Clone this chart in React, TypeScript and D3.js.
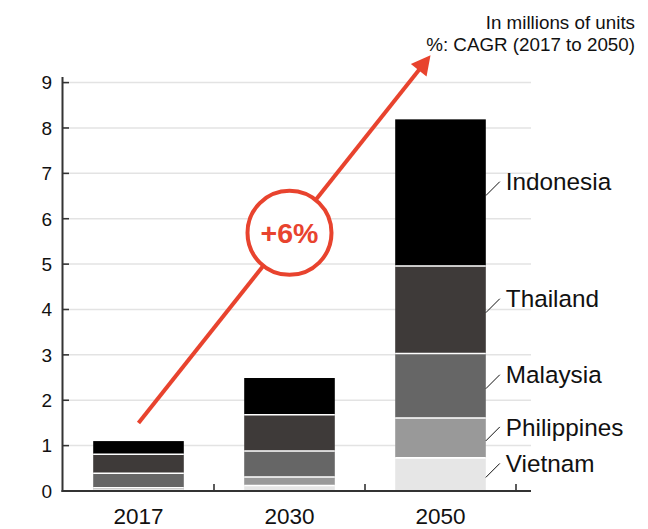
import React from "react";
import * as d3 from "d3";

const years = ["2017", "2030", "2050"];
const countries = ["Vietnam", "Philippines", "Malaysia", "Thailand", "Indonesia"];
const vietnam = [0.02, 0.12, 0.73];
const philippines = [0.05, 0.19, 0.88];
const malaysia = [0.32, 0.57, 1.42];
const thailand = [0.42, 0.8, 1.93];
const indonesia = [0.29, 0.81, 3.23];
const yTicks = [0, 1, 2, 3, 4, 5, 6, 7, 8, 9];
const cagrLabel = "+6%";
const noteLines = ["In millions of units", "%: CAGR (2017 to 2050)"];
const colors = ["#e6e6e6", "#999999", "#666666", "#3e3a39", "#000000"];

const W = 648;
const H = 529;
const FONT = "'Liberation Sans', Arial, Helvetica, sans-serif";
const RED = "#e8432e";

export default function App() {
  const series = [vietnam, philippines, malaysia, thailand, indonesia];
  const rows = years.map((yr, i) => {
    const r: any = { year: yr };
    countries.forEach((c, k) => (r[c] = series[k][i]));
    return r;
  });
  const stack = d3.stack<any>().keys(countries)(rows);

  const x = d3.scaleBand<string>().domain(years).range([63, 516]).padding(0);
  const y = d3.scaleLinear().domain([0, 9]).range([491, 82.6]);
  const barW = x.bandwidth() * 0.6;
  const bx = (yr: string) => (x(yr) as number) + (x.bandwidth() - barW) / 2;
  const cx = (yr: string) => (x(yr) as number) + x.bandwidth() / 2;

  // arrow annotation
  const ax0 = cx("2017");
  const ay0 = y(1.5);
  const ax1 = cx("2050") - 10;
  const ay1 = y(9.6);
  const dx = ax1 - ax0;
  const dy = ay1 - ay0;
  const len = Math.sqrt(dx * dx + dy * dy);
  const ux = dx / len;
  const uy = dy / len;
  const headL = 19;
  const headW = 10;
  const bxh = ax1 - ux * headL;
  const byh = ay1 - uy * headL;
  const head = [
    [ax1, ay1],
    [bxh - uy * headW, byh + ux * headW],
    [bxh + uy * headW, byh - ux * headW],
  ];
  const ccx = cx("2030");
  const ccy = ay0 + (uy / ux) * (ccx - ax0);

  const last = stack.map((s) => s[2]);

  return (
    <svg width={W} height={H} style={{ position: "absolute", left: 0, top: 0 }} fontFamily={FONT}>
      <rect width={W} height={H} fill="#fff" />
      {/* gridlines */}
      {yTicks.slice(1).map((t) => (
        <line key={"g" + t} x1={69} x2={531} y1={y(t)} y2={y(t)} stroke="#e3e3e3" strokeWidth={1.5} />
      ))}
      {/* bars */}
      {stack.map((s, k) =>
        s.map((d, i) => (
          <rect
            key={k + "-" + i}
            x={bx(years[i])}
            width={barW}
            y={y(d[1])}
            height={y(d[0]) - y(d[1])}
            fill={colors[k]}
          />
        ))
      )}
      {/* white separators */}
      {stack.slice(0, -1).map((s, k) =>
        s.map((d, i) => (
          <line
            key={"s" + k + "-" + i}
            x1={bx(years[i])}
            x2={bx(years[i]) + barW}
            y1={y(d[1])}
            y2={y(d[1])}
            stroke="#fff"
            strokeWidth={1.6}
          />
        ))
      )}
      {/* y axis */}
      <line x1={62.5} x2={62.5} y1={77} y2={492} stroke="#333" strokeWidth={2} />
      {yTicks.slice(1).map((t) => (
        <line key={"t" + t} x1={62} x2={69} y1={y(t)} y2={y(t)} stroke="#333" strokeWidth={1.6} />
      ))}
      {yTicks.map((t) => (
        <text key={"l" + t} x={52} y={y(t)} dy="0.36em" textAnchor="end" fontSize={19} fill="#111">
          {t}
        </text>
      ))}
      {/* x axis */}
      <line x1={61.5} x2={531} y1={491} y2={491} stroke="#333" strokeWidth={2} />
      {years.map((yr) => (
        <line
          key={"xt" + yr}
          x1={(x(yr) as number) + x.bandwidth()}
          x2={(x(yr) as number) + x.bandwidth()}
          y1={491}
          y2={484}
          stroke="#333"
          strokeWidth={1.6}
        />
      ))}
      {years.map((yr) => (
        <text key={"xl" + yr} x={cx(yr)} y={524} textAnchor="middle" fontSize={22.5} fill="#111">
          {yr}
        </text>
      ))}
      {/* country labels */}
      {last.map((d, k) => {
        const x0 = bx("2050") + barW;
        const ym = (y(d[0]) + y(d[1])) / 2 + 3;
        return (
          <g key={"c" + k}>
            <line x1={x0} y1={ym} x2={x0 + 14} y2={ym - 14} stroke="#111" strokeWidth={1} />
            <text x={x0 + 20} y={ym - 14} dy="0.36em" fontSize={24.3} fill="#111">
              {countries[k]}
            </text>
          </g>
        );
      })}
      {/* arrow */}
      <line x1={ax0} y1={ay0} x2={bxh + ux * 2} y2={byh + uy * 2} stroke={RED} strokeWidth={4} />
      <polygon points={head.map((p) => p.join(",")).join(" ")} fill={RED} />
      <circle cx={ccx} cy={ccy} r={42} fill="#fff" stroke={RED} strokeWidth={4} />
      <text x={ccx} y={ccy} dy="0.36em" textAnchor="middle" fontSize={28.5} fontWeight="bold" fill={RED}>
        {cagrLabel}
      </text>
      {/* note */}
      {noteLines.map((t, i) => (
        <text key={"n" + i} x={635} y={29 + i * 21.5} textAnchor="end" fontSize={18.8} fill="#111">
          {t}
        </text>
      ))}
    </svg>
  );
}
